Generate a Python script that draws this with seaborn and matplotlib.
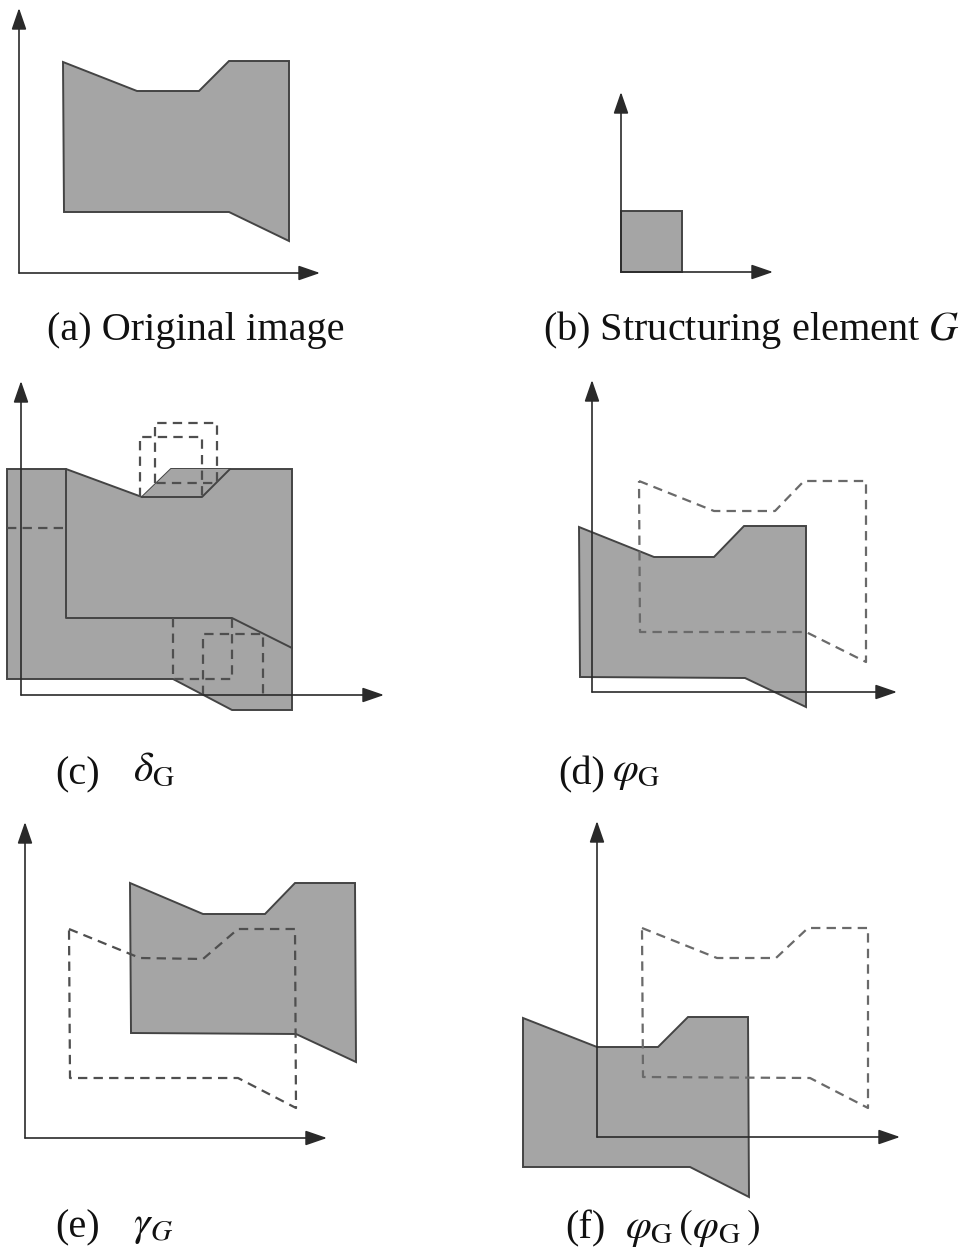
import numpy as np
import pandas as pd
import matplotlib
matplotlib.use("Agg")
import matplotlib.pyplot as plt
import seaborn as sns

sns.set_theme(style="white")
plt.rcParams["font.family"] = ["Liberation Serif", "DejaVu Serif"]
plt.rcParams["mathtext.fontset"] = "stix"

# ---------------- data (pixel-space vertices) -------------
# axes of every panel: origin (x, y), x-axis end, y-axis end
axis_origin_x = [19, 621, 21, 592, 25, 597]
axis_origin_y = [273, 272, 695, 692, 1138, 1137]
axis_xend = [320, 773, 384, 897, 327, 900]
axis_ytop = [8, 92, 381, 380, 822, 821]

# (a) original image
a_x = [63, 137, 199, 229, 289, 289, 229, 64]
a_y = [62, 91, 91, 61, 61, 241, 212, 212]

# (b) structuring element G
b_x = [621, 682, 682, 621]
b_y = [211, 211, 272, 272]

# (c) dilation: union outline and inner outlines
c_x = [7, 66, 142, 171, 292, 292, 232, 173, 7]
c_y = [469, 469, 497, 469, 469, 710, 710, 679, 679]
c_in1_x = [66, 66, 232, 292]
c_in1_y = [469, 618, 618, 648]
c_in2_x = [142, 202, 230]
c_in2_y = [497, 497, 469]
c_par_x = [142, 171, 230, 202]
c_par_y = [497, 469, 469, 497]
c_dash = {
    "left": ([7, 66], [528, 528]),
    "sq1": ([140, 140, 202, 202], [497, 437, 437, 497]),
    "sq2": ([155, 155, 217, 217, 155], [483, 423, 423, 483, 483]),
    "sq3": ([173, 173, 232, 232], [618, 679, 679, 618]),
    "sq4": ([203, 203, 263, 263], [695, 634, 634, 695]),
}

# (d) closing
d_x = [579, 654, 714, 744, 806, 806, 745, 580]
d_y = [527, 557, 557, 526, 526, 707, 678, 677]
d_dash_x = [639, 714, 775, 804, 866, 866, 806, 640, 639]
d_dash_y = [481, 511, 511, 481, 481, 662, 632, 632, 481]

# (e) opening
e_x = [130, 203, 265, 295, 355, 356, 296, 131]
e_y = [883, 914, 914, 883, 883, 1062, 1034, 1033]
e_dash_x = [69, 140, 203, 238, 295, 296, 238, 70, 69]
e_dash_y = [929, 958, 959, 929, 929, 1108, 1078, 1078, 929]

# (f) closing of closing
f_x = [523, 597, 658, 688, 748, 749, 690, 523]
f_y = [1018, 1047, 1047, 1017, 1017, 1197, 1167, 1167]
f_dash_x = [642, 717, 776, 808, 868, 868, 810, 643, 642]
f_dash_y = [928, 958, 958, 928, 928, 1108, 1078, 1077, 928]

labels_tag = ["(a) Original image", "(b) Structuring element $G$", "(c)", "(d)", "(e)", "(f)"]
labels_tag_x = [47, 543, 55, 558, 55, 565]
labels_tag_y = [340, 340, 784, 784, 1237, 1238]
labels_op = [r"$\delta_{\mathrm{G}}$", r"$\varphi_{\mathrm{G}}$", r"$\gamma_G$",
             r"$\varphi_{\mathrm{G}}\,(\varphi_{\mathrm{G}}\,)$"]
labels_op_x = [133, 612, 133, 625]
labels_op_y = [781, 781, 1235, 1238]

# ---------------- styles ----------------
FILL = "#a5a5a5"
EDGE = "#444444"
AXC = "#2a2a2a"
DASHC = "#4f4f4f"
DASHC2 = "#6a6a6a"
DASH = (0, (4.2, 2.8))

fig = plt.figure(figsize=(9.65, 12.55), dpi=100)
ax = fig.add_axes([0, 0, 1, 1])
ax.set_xlim(0, 965)
ax.set_ylim(1255, 0)
ax.axis("off")


def poly(xs, ys, z=2):
    ax.fill(xs, ys, facecolor=FILL, edgecolor=EDGE, linewidth=1.4, zorder=z)


def seg(xs, ys, dashed=False, color=None, lw=1.4, z=4):
    df = pd.DataFrame({"x": xs, "y": ys, "o": np.arange(len(xs))})
    sns.lineplot(data=df, x="x", y="y", sort=False, estimator=None, ax=ax,
                 color=color or (DASHC if dashed else EDGE), linewidth=lw,
                 linestyle=DASH if dashed else "-", zorder=z)


poly(a_x, a_y)
poly(b_x, b_y)
poly(c_x, c_y)
ax.fill(c_par_x, c_par_y, facecolor=FILL, edgecolor="none", zorder=2)
seg(c_in1_x, c_in1_y)
seg(c_in2_x, c_in2_y)
for k, (xs, ys) in c_dash.items():
    seg(xs, ys, dashed=True, lw=1.6)
poly(d_x, d_y)
seg(d_dash_x, d_dash_y, dashed=True, lw=1.6, color=DASHC2)
poly(e_x, e_y)
seg(e_dash_x, e_dash_y, dashed=True, lw=1.6)
poly(f_x, f_y)
seg(f_dash_x, f_dash_y, dashed=True, lw=1.6, color=DASHC2)

# axes with arrowheads
for ox, oy, xe, yt in zip(axis_origin_x, axis_origin_y, axis_xend, axis_ytop):
    ax.annotate("", xy=(xe, oy), xytext=(ox, oy),
                arrowprops=dict(arrowstyle="-|>,head_length=1.1,head_width=0.38",
                                color=AXC, lw=1.2, shrinkA=0, shrinkB=0), zorder=5)
    ax.annotate("", xy=(ox, yt), xytext=(ox, oy),
                arrowprops=dict(arrowstyle="-|>,head_length=1.1,head_width=0.38",
                                color=AXC, lw=1.2, shrinkA=0, shrinkB=0), zorder=5)

for t, x, y in zip(labels_tag, labels_tag_x, labels_tag_y):
    ax.text(x, y, t, fontsize=29, va="baseline", ha="left", color="#111111")
for t, x, y in zip(labels_op, labels_op_x, labels_op_y):
    ax.text(x, y, t, fontsize=30, va="baseline", ha="left", color="#111111")

fig.savefig("out.png", dpi=100)
